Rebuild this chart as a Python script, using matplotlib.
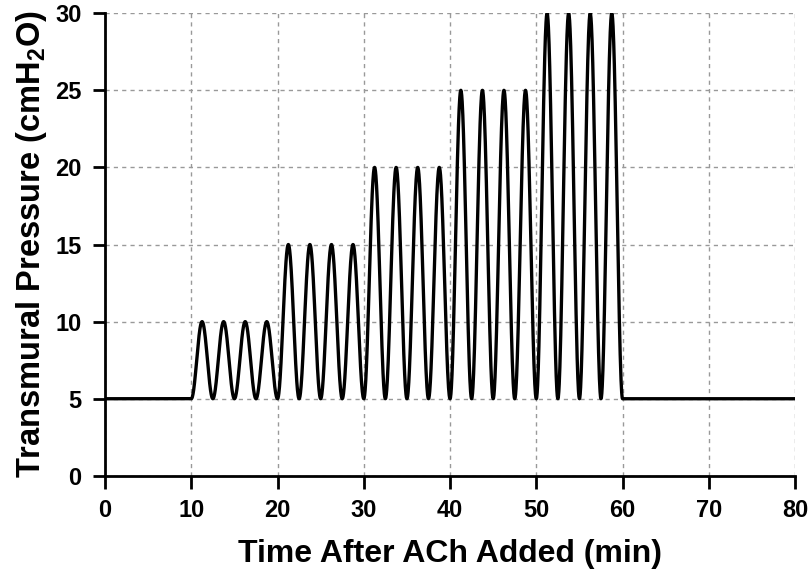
import numpy as np
import matplotlib.pyplot as plt

# DATA
baseline = 5.0
seg_start = [10, 20, 30, 40, 50]        # min
seg_peak = [10, 15, 20, 25, 30]         # cmH2O
cycles_per_seg = 4
seg_len = 10
t_end = 80

x_ticks = [0, 10, 20, 30, 40, 50, 60, 70, 80]
y_ticks = [0, 5, 10, 15, 20, 25, 30]

# build the pressure trace from the protocol
t = [np.array([0.0, seg_start[0]])]
p = [np.array([baseline, baseline])]
period = seg_len / cycles_per_seg
for start, peak in zip(seg_start, seg_peak):
    tt = np.linspace(start, start + seg_len, 400)
    amp = peak - baseline
    pp = baseline + amp * (1 - np.cos(2 * np.pi * (tt - start) / period)) / 2
    t.append(tt)
    p.append(pp)
t.append(np.array([seg_start[-1] + seg_len, t_end]))
p.append(np.array([baseline, baseline]))
t = np.concatenate(t)
p = np.concatenate(p)

# PLOT
plt.rcParams['font.family'] = ['Liberation Sans', 'DejaVu Sans']
plt.rcParams['font.weight'] = 'bold'
plt.rcParams['mathtext.fontset'] = 'custom'
plt.rcParams['mathtext.bf'] = 'Liberation Sans:bold'

fig = plt.figure(figsize=(8.08, 5.74), dpi=100)
ax = fig.add_axes([0.130, 0.171, 0.854, 0.806])

ax.plot(t, p, color='black', linewidth=2.4, zorder=3)

ax.set_xlim(0, 80)
ax.set_ylim(0, 30)
ax.set_xticks(x_ticks)
ax.set_yticks(y_ticks)
ax.grid(True, color='#999999', linestyle=(0, (3, 3)), linewidth=1)

for side in ['top', 'right']:
    ax.spines[side].set_visible(False)
for side in ['left', 'bottom']:
    ax.spines[side].set_linewidth(2)
ax.tick_params(direction='out', width=2, length=9, labelsize=17, pad=8)
for lbl in ax.get_xticklabels() + ax.get_yticklabels():
    lbl.set_fontweight('bold')

ax.set_xlabel('Time After ACh Added (min)', fontsize=23, fontweight='bold', labelpad=12)
ax.set_ylabel('Transmural Pressure (cmH$_\\mathbf{2}$O)', fontsize=23.5, fontweight='bold', labelpad=4)

fig.savefig('out.png', dpi=100)
